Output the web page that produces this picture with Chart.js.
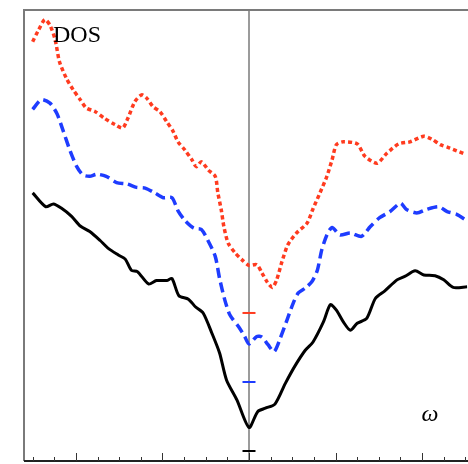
<!DOCTYPE html>
<html>
<head>
<meta charset="utf-8">
<script src="https://cdn.jsdelivr.net/npm/chart.js@4"></script>
<style>
  html, body { margin: 0; padding: 0; background: #fff; overflow: hidden; }
  #wrap { width: 468px; height: 464px; overflow: hidden; }
</style>
</head>
<body>
<div id="wrap"><canvas id="dosChart" width="480" height="464"></canvas></div>
<script>
// omega values (x) and DOS values for each curve
const omegaBlack = [-2.50, -2.35, -2.26, -2.17, -2.05, -1.95, -1.84, -1.72, -1.63, -1.51, -1.43, -1.36, -1.29, -1.16, -1.07, -0.95, -0.89, -0.81, -0.70, -0.62, -0.53, -0.43, -0.34, -0.26, -0.14, 0.00, 0.10, 0.19, 0.30, 0.42, 0.53, 0.65, 0.74, 0.86, 0.94, 1.01, 1.09, 1.17, 1.25, 1.36, 1.46, 1.57, 1.71, 1.80, 1.92, 2.02, 2.15, 2.25, 2.36, 2.52];
const dosBlack = [3.74, 3.54, 3.58, 3.52, 3.40, 3.26, 3.18, 3.05, 2.94, 2.84, 2.78, 2.62, 2.60, 2.42, 2.47, 2.47, 2.50, 2.25, 2.20, 2.09, 2.00, 1.71, 1.42, 1.03, 0.74, 0.34, 0.57, 0.62, 0.68, 0.98, 1.23, 1.46, 1.58, 1.87, 2.12, 2.04, 1.87, 1.75, 1.85, 1.92, 2.21, 2.32, 2.48, 2.53, 2.61, 2.55, 2.54, 2.48, 2.37, 2.38];

const omegaBlue = [-2.50, -2.40, -2.30, -2.22, -2.15, -2.07, -1.99, -1.92, -1.84, -1.76, -1.65, -1.53, -1.41, -1.30, -1.20, -1.09, -0.99, -0.89, -0.82, -0.74, -0.64, -0.55, -0.47, -0.39, -0.34, -0.28, -0.22, -0.12, -0.05, 0.00, 0.09, 0.15, 0.22, 0.29, 0.36, 0.44, 0.51, 0.57, 0.65, 0.73, 0.79, 0.84, 0.90, 0.96, 1.05, 1.17, 1.30, 1.40, 1.51, 1.63, 1.75, 1.82, 1.94, 2.05, 2.19, 2.29, 2.40, 2.49];
const dosBlue = [3.95, 4.09, 4.04, 3.89, 3.65, 3.36, 3.12, 3.00, 2.98, 3.01, 2.98, 2.89, 2.87, 2.82, 2.81, 2.74, 2.67, 2.67, 2.48, 2.34, 2.23, 2.21, 2.04, 1.82, 1.50, 1.19, 0.97, 0.80, 0.66, 0.55, 0.66, 0.65, 0.54, 0.44, 0.63, 0.90, 1.14, 1.29, 1.36, 1.46, 1.62, 1.91, 2.13, 2.24, 2.13, 2.16, 2.11, 2.25, 2.38, 2.47, 2.59, 2.50, 2.45, 2.50, 2.54, 2.47, 2.43, 2.36];

const omegaRed = [-2.50, -2.44, -2.36, -2.30, -2.24, -2.19, -2.11, -2.03, -1.95, -1.88, -1.78, -1.67, -1.55, -1.46, -1.40, -1.32, -1.24, -1.18, -1.11, -1.03, -0.95, -0.88, -0.82, -0.74, -0.66, -0.61, -0.55, -0.47, -0.39, -0.36, -0.32, -0.29, -0.24, -0.16, -0.08, 0.00, 0.09, 0.15, 0.21, 0.27, 0.32, 0.38, 0.45, 0.55, 0.67, 0.74, 0.82, 0.90, 0.96, 1.01, 1.09, 1.25, 1.34, 1.48, 1.59, 1.73, 1.86, 2.02, 2.11, 2.21, 2.32, 2.48];
const dosRed = [3.93, 4.08, 4.25, 4.17, 3.96, 3.64, 3.40, 3.23, 3.09, 2.97, 2.92, 2.82, 2.73, 2.68, 2.82, 3.06, 3.16, 3.11, 2.99, 2.92, 2.77, 2.64, 2.48, 2.36, 2.22, 2.12, 2.19, 2.07, 1.98, 1.74, 1.49, 1.25, 1.01, 0.87, 0.77, 0.69, 0.70, 0.58, 0.45, 0.37, 0.48, 0.74, 0.99, 1.16, 1.30, 1.51, 1.74, 1.98, 2.22, 2.44, 2.48, 2.45, 2.27, 2.17, 2.31, 2.45, 2.48, 2.56, 2.52, 2.44, 2.39, 2.31];

// vertical shift of each curve (black, blue, red)
const curveOffsets = [0, 1, 2];
const curveColors = ["#000000", "#1e3cff", "#ff3b1f"];

const omegaMin = -2.6;
const omegaMax = 2.6;
const majorTicks = [-2, -1, 0, 1, 2];
const minorStep = 0.25;

function toPoints(xs, ys, shift) {
    return xs.map((x, i) => ({ x: x, y: ys[i] + shift }));
}

const framePlugin = {
    id: "frame",
    beforeDatasetsDraw(chart) {
        const ctx = chart.ctx;
        const a = chart.chartArea;
        const xs = chart.scales.x;
        const x0 = xs.getPixelForValue(0);
        ctx.save();
        ctx.strokeStyle = "#7a7a7a";
        ctx.lineWidth = 1.5;
        ctx.beginPath();
        ctx.moveTo(x0, a.top);
        ctx.lineTo(x0, a.bottom);
        ctx.stroke();
        ctx.restore();
    },
    afterDraw(chart) {
        const ctx = chart.ctx;
        const a = chart.chartArea;
        const xs = chart.scales.x;
        const ys = chart.scales.y;
        const x0 = xs.getPixelForValue(0);
        ctx.save();
        // frame
        ctx.strokeStyle = "#7a7a7a";
        ctx.lineWidth = 2;
        ctx.beginPath();
        ctx.moveTo(a.left, a.bottom);
        ctx.lineTo(a.left, a.top);
        ctx.lineTo(a.right, a.top);
        ctx.stroke();
        ctx.strokeStyle = "#222";
        ctx.beginPath();
        ctx.moveTo(a.left, a.bottom);
        ctx.lineTo(a.right, a.bottom);
        ctx.stroke();
        // ticks on bottom axis, pointing inwards
        ctx.lineWidth = 1;
        ctx.strokeStyle = "#333";
        for (let v = -2.5; v <= 2.5 + 1e-9; v += minorStep) {
            const px = Math.round(xs.getPixelForValue(v)) + 0.5;
            const len = majorTicks.some(m => Math.abs(m - v) < 1e-6) ? 8 : 4;
            ctx.beginPath();
            ctx.moveTo(px, a.bottom);
            ctx.lineTo(px, a.bottom - len);
            ctx.stroke();
        }
        // zero markers of each curve on the centre axis
        ctx.lineWidth = 2;
        curveOffsets.forEach((off, i) => {
            const py = ys.getPixelForValue(off);
            ctx.strokeStyle = curveColors[i];
            ctx.beginPath();
            ctx.moveTo(x0 - 6.5, py);
            ctx.lineTo(x0 + 6.5, py);
            ctx.stroke();
        });
        // labels
        ctx.fillStyle = "#000";
        ctx.textBaseline = "alphabetic";
        ctx.font = "24px 'Liberation Serif', 'Times New Roman', serif";
        ctx.fillText("DOS", a.left + 29, a.top + 32);
        ctx.font = "italic 24px 'Liberation Serif', 'Times New Roman', serif";
        ctx.textAlign = "center";
        ctx.fillText("ω", xs.getPixelForValue(2.09), ys.getPixelForValue(0.43));
        ctx.restore();
    }
};

new Chart(document.getElementById("dosChart"), {
    type: "line",
    data: {
        datasets: [
            {
                label: "black",
                data: toPoints(omegaBlack, dosBlack, curveOffsets[0]),
                borderColor: curveColors[0],
                borderWidth: 3,
            },
            {
                label: "blue",
                data: toPoints(omegaBlue, dosBlue, curveOffsets[1]),
                borderColor: curveColors[1],
                borderWidth: 3.5,
                borderDash: [10, 5],
            },
            {
                label: "red",
                data: toPoints(omegaRed, dosRed, curveOffsets[2]),
                borderColor: curveColors[2],
                borderWidth: 3.5,
                borderDash: [4, 3],
            },
        ],
    },
    options: {
        responsive: false,
        animation: false,
        devicePixelRatio: 1,
        layout: { padding: { left: 24, top: 10, right: 6, bottom: 3 } },
        elements: {
            point: { radius: 0 },
            line: { tension: 0.25, fill: false, borderCapStyle: "butt" },
        },
        scales: {
            x: { type: "linear", min: omegaMin, max: omegaMax, display: false },
            y: { type: "linear", min: -0.145, max: 6.39, display: false },
        },
        plugins: {
            legend: { display: false },
            tooltip: { enabled: false },
        },
    },
    plugins: [framePlugin],
});
</script>
</body>
</html>
